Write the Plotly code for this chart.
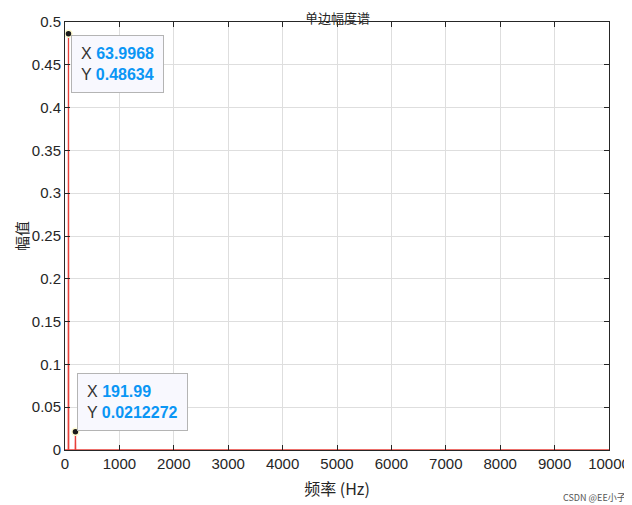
import plotly.graph_objects as go

# single-sided amplitude spectrum (peaks at ~64 Hz and ~192 Hz)
freq = [0, 60.0, 63.9968, 68.0, 188.0, 191.99, 196.0, 10000]
amp = [0, 0.0, 0.48634, 0.0, 0.0, 0.0212272, 0.0, 0]

# data tips
tip_x = [63.9968, 191.99]
tip_y = [0.48634, 0.0212272]
tip_label_x = ["63.9968", "191.99"]
tip_label_y = ["0.48634", "0.0212272"]

xticks = list(range(0, 10001, 1000))
yticks = [0, 0.05, 0.1, 0.15, 0.2, 0.25, 0.3, 0.35, 0.4, 0.45, 0.5]

font_en = "Liberation Sans, Arial, sans-serif"
font_cn = "Noto Sans CJK SC, sans-serif"

fig = go.Figure()
fig.add_trace(go.Scatter(x=freq, y=amp, mode="lines",
                         line=dict(color="#e8403a", width=1.3),
                         hoverinfo="skip", showlegend=False))
fig.add_trace(go.Scatter(x=tip_x, y=tip_y, mode="markers",
                         marker=dict(color="#1a1a1a", size=7,
                                     line=dict(color="#fffbd0", width=1.5)),
                         hoverinfo="skip", showlegend=False, cliponaxis=False))

blue = "#0a96f5"
shifts = [(3, -1, "top"), (2, 1, "bottom")]
for i in range(len(tip_x)):
    dx, dy, ya = shifts[i]
    fig.add_annotation(
        x=tip_x[i], y=tip_y[i], xref="x", yref="y",
        text=("X <b><span style='color:%s'>%s</span></b><br>"
              "Y <b><span style='color:%s'>%s</span></b>")
             % (blue, tip_label_x[i], blue, tip_label_y[i]),
        showarrow=False, xanchor="left", yanchor=ya, align="left",
        xshift=dx, yshift=dy,
        font=dict(family=font_en, size=16, color="#333333"),
        bgcolor="#f8f8fe", bordercolor="#b4b4b4", borderwidth=1, borderpad=9,
    )

# title sits right on top of the axes box
fig.add_annotation(text="单边幅度谱", xref="paper", yref="paper",
                   x=0.5, y=1, xanchor="center", yanchor="middle", yshift=5,
                   showarrow=False, borderpad=0,
                   font=dict(family=font_cn, size=13, color="#262626"))

# y label placed by hand so it sits near the left edge
fig.add_annotation(text="幅值", xref="paper", yref="paper",
                   x=0, y=0.5, xanchor="center", yanchor="middle", xshift=-44,
                   textangle=-90, showarrow=False, borderpad=0,
                   font=dict(family=font_cn, size=15, color="#262626"))

fig.add_annotation(text="CSDN @EE小子", xref="paper", yref="paper",
                   x=1.035, y=-0.11, xanchor="right", yanchor="middle",
                   showarrow=False,
                   font=dict(family=font_cn, size=9, color="#555555"))

axis_common = dict(showline=True, linecolor="#262626", linewidth=1, mirror="ticks",
                   ticks="inside", ticklen=5, tickcolor="#262626",
                   showgrid=True, gridcolor="#dedede", gridwidth=1, zeroline=False,
                   tickfont=dict(family=font_en, size=15, color="#262626"))

fig.update_xaxes(range=[0, 10000], tickvals=xticks,
                 ticktext=[str(v) for v in xticks],
                 title=dict(text="频率 (Hz)", standoff=12,
                            font=dict(family=font_cn, size=16, color="#262626")),
                 **axis_common)
fig.update_yaxes(range=[0, 0.5], tickvals=yticks,
                 ticktext=[("%g" % v) for v in yticks],
                 **axis_common)

# page body has an 8px default margin, so the figure is sized to fit the window
fig.update_layout(
    autosize=False, width=624, height=497,
    margin=dict(l=57, r=23, t=14, b=55, autoexpand=False),
    paper_bgcolor="white", plot_bgcolor="white",
)
fig.write_html("out.html")
